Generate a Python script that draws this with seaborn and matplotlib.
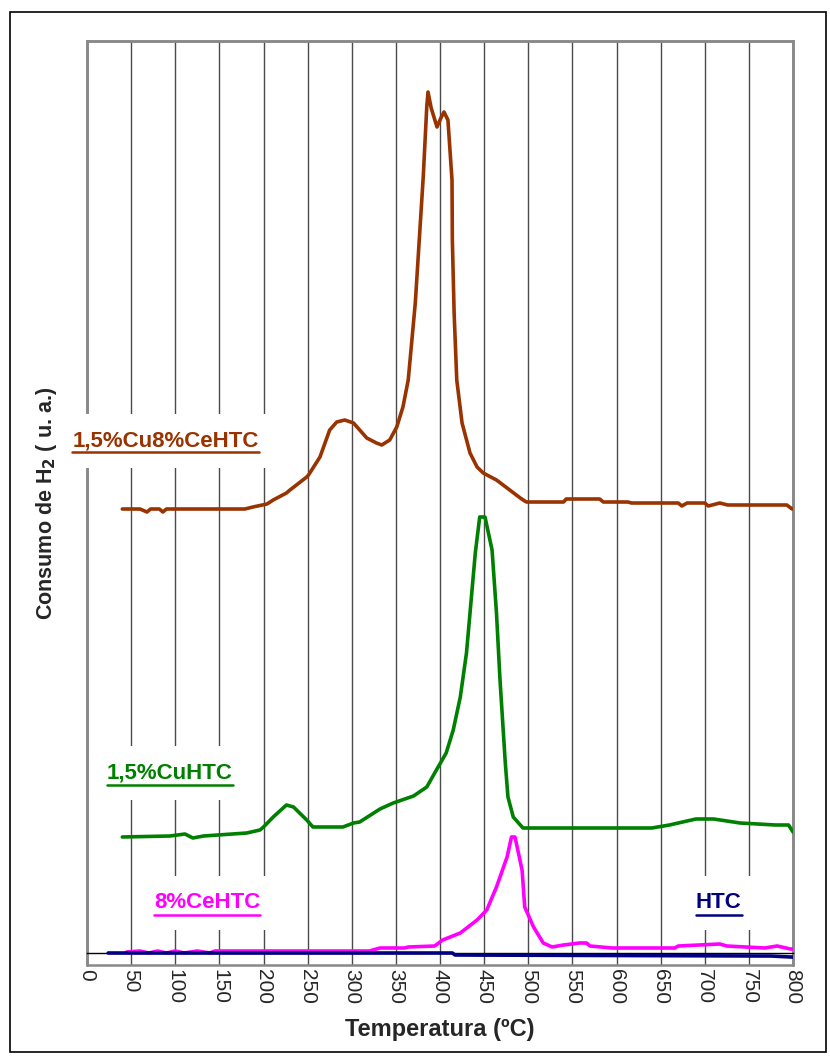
"""
TPR profiles - H2 consumption vs temperature
"""
import numpy as np
import pandas as pd
import matplotlib.pyplot as plt
import seaborn as sns
from matplotlib.lines import Line2D
from matplotlib.patches import Rectangle

sns.set_style('white')
plt.rcParams['font.family'] = ['Liberation Sans', 'DejaVu Sans']

# 1,5%Cu8%CeHTC (brown)
cuce_t = [40, 60, 68, 72, 82, 86, 90, 179, 188, 204, 211, 226, 230, 249, 251, 264, 275, 283,
          292, 302, 317, 328, 334, 343, 351, 358, 364, 372, 377, 381, 385, 386.4, 390, 396.6,
          401, 404.5, 409, 413.6, 414, 416, 419, 425, 434, 442, 449, 464, 479, 491, 496, 498,
          540, 543, 581, 585, 613, 617, 670, 674, 680, 700, 704, 717, 726, 793, 799]
cuce_v = [4.44, 4.44, 4.41, 4.44, 4.44, 4.41, 4.44, 4.44, 4.46, 4.49, 4.53, 4.60, 4.63, 4.76,
          4.78, 4.96, 5.23, 5.31, 5.33, 5.30, 5.15, 5.10, 5.08, 5.13, 5.26, 5.46, 5.73, 6.50,
          7.20, 7.76, 8.46, 8.61, 8.45, 8.26, 8.35, 8.41, 8.33, 7.73, 7.13, 6.40, 5.73, 5.30,
          5.00, 4.86, 4.80, 4.73, 4.63, 4.55, 4.52, 4.51, 4.51, 4.54, 4.54, 4.51, 4.51, 4.50,
          4.50, 4.47, 4.50, 4.50, 4.47, 4.50, 4.48, 4.48, 4.44]

# 1,5%CuHTC (green)
cu_t = [40, 94, 111, 120, 132, 181, 196, 200, 211, 226, 234, 249, 256, 290, 302, 309, 332,
        347, 370, 385, 394, 407, 415, 423, 430, 434, 440, 445, 451, 459, 464, 468, 474, 477,
        483, 494, 513, 640, 660, 690, 710, 740, 780, 795, 800]
cu_v = [1.16, 1.17, 1.19, 1.15, 1.17, 1.20, 1.23, 1.26, 1.36, 1.48, 1.46, 1.33, 1.26, 1.26,
        1.30, 1.31, 1.44, 1.50, 1.57, 1.66, 1.80, 2.00, 2.23, 2.56, 3.00, 3.40, 4.00, 4.36,
        4.36, 4.03, 3.40, 2.73, 1.90, 1.56, 1.36, 1.25, 1.25, 1.25, 1.28, 1.34, 1.34, 1.30,
        1.28, 1.28, 1.21]

# 8%CeHTC (magenta)
ce_t = [45, 60, 70, 80, 90, 100, 110, 125, 139, 145, 287, 320, 332, 360, 364, 394, 403, 423,
        442, 453, 464, 476, 481, 485, 493, 496, 506, 517, 527, 540, 558, 566, 570, 595, 666,
        670, 717, 725, 768, 782, 797, 800]
ce_v = [0.01, 0.02, 0.00, 0.02, 0.00, 0.02, 0.00, 0.02, 0.00, 0.02, 0.02, 0.02, 0.05, 0.05,
        0.06, 0.07, 0.13, 0.20, 0.33, 0.43, 0.66, 0.96, 1.16, 1.16, 0.83, 0.46, 0.26, 0.10,
        0.06, 0.08, 0.10, 0.10, 0.07, 0.05, 0.05, 0.07, 0.09, 0.07, 0.05, 0.07, 0.04, 0.04]

# HTC (navy)
htc_t = [24, 414, 417, 766, 775, 797, 800]
htc_v = [0.00, 0.00, -0.02, -0.03, -0.03, -0.04, -0.04]

series = [
    ('1,5%Cu8%CeHTC', cuce_t, cuce_v, '#993300'),
    ('1,5%CuHTC', cu_t, cu_v, '#008000'),
    ('8%CeHTC', ce_t, ce_v, '#FF00FF'),
    ('HTC', htc_t, htc_v, '#000080'),
]
# label anchor (temperature, signal)
label_pos = {
    '1,5%Cu8%CeHTC': (89, 5.12),
    '1,5%CuHTC': (94, 1.80),
    '8%CeHTC': (136, 0.50),
    'HTC': (716, 0.50),
}

fig = plt.figure(figsize=(8.3, 10.57), dpi=100)
ax = fig.add_axes([87 / 830, 92 / 1057, 706 / 830, 924 / 1057])

for name, t, v, col in series:
    df = pd.DataFrame({'T': t, 'v': v})
    sns.lineplot(data=df, x='T', y='v', color=col, lw=2.6, sort=False,
                 estimator=None, ax=ax, zorder=3)

ax.set_xlim(0, 800)
ax.set_ylim(-0.12, 9.12)
ax.set_xticks(np.arange(0, 801, 50))
ax.set_xticks(np.arange(0, 801, 10), minor=True)
ax.set_yticks([])
ax.tick_params(axis='x', which='major', direction='out', length=8.5, width=1,
               color='black', labelsize=15, labelrotation=-90, pad=3)
ax.tick_params(axis='x', which='minor', direction='out', length=3.5, width=1, color='black')
ax.grid(axis='x', color='#4a4a4a', lw=1, zorder=0)

for s in ['left', 'right', 'top']:
    ax.spines[s].set_color('#888888')
    ax.spines[s].set_linewidth(1.8)
ax.spines['bottom'].set_position(('data', 0))
ax.spines['bottom'].set_color('black')
ax.spines['bottom'].set_linewidth(1)
ax.add_patch(Rectangle((0, 0), 1, 1, transform=ax.transAxes, fill=False,
                       edgecolor='#888888', lw=1.8, zorder=1, clip_on=False))

ax.set_xlabel('Temperatura (ºC)', fontsize=17, fontweight='bold', labelpad=10)
ax.set_ylabel(r'Consumo de H$_\mathbf{2}$ ( u. a.)', fontsize=15.5, fontweight='bold', labelpad=20)

texts = []
for name, t, v, col in series:
    x0, y0 = label_pos[name]
    tx = ax.text(x0, y0, name, color=col, fontsize=16, fontweight='bold', ha='center',
                 va='center', zorder=5, clip_on=False,
                 bbox=dict(facecolor='white', edgecolor='none', pad=12))
    texts.append(tx)

# underline the series labels
fig.canvas.draw()
r = fig.canvas.get_renderer()
inv = fig.transFigure.inverted()
for tx in texts:
    bb = tx.get_window_extent(r)
    (fx0, fy0), (fx1, fy1) = inv.transform([[bb.x0, bb.y0 - 1], [bb.x1, bb.y0 - 1]])
    fig.add_artist(Line2D([fx0, fx1], [fy0, fy1], color=tx.get_color(), lw=1.8,
                          transform=fig.transFigure, zorder=6))

# outer chart frame
fig.add_artist(Rectangle((10 / 830, 5 / 1057), 816 / 830, 1040 / 1057,
                         transform=fig.transFigure, fill=False, edgecolor='black', lw=1.2))

plt.savefig('out.png', dpi=100)
